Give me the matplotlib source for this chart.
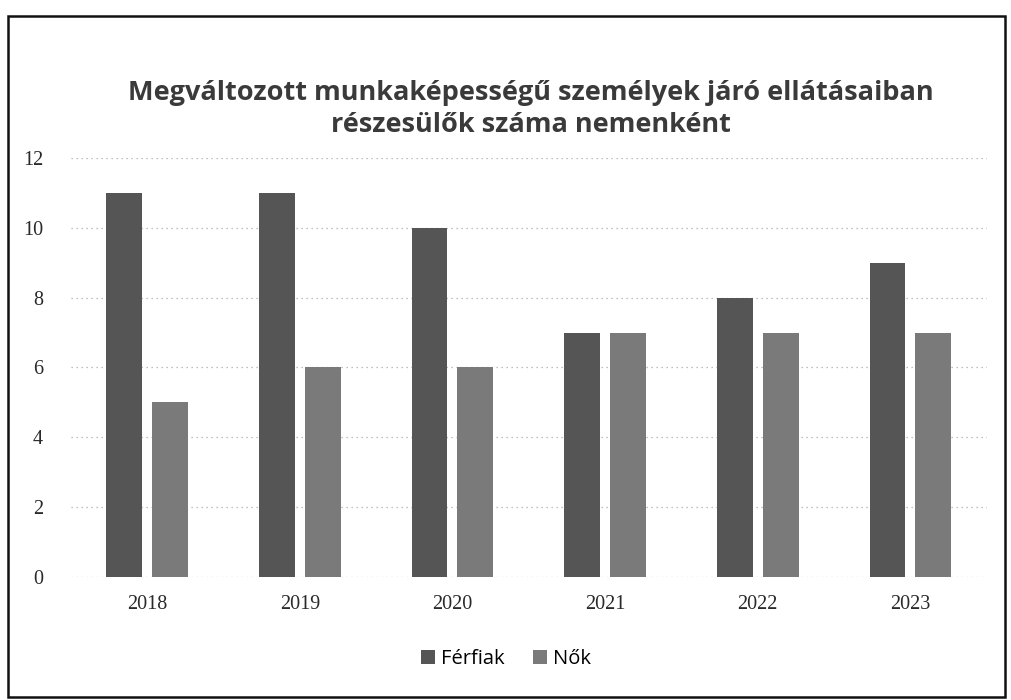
import matplotlib.pyplot as plt
import numpy as np
from matplotlib.patches import Rectangle

# adatok
evek = ['2018', '2019', '2020', '2021', '2022', '2023']
ferfiak = [11, 11, 10, 7, 8, 9]
nok = [5, 6, 6, 7, 7, 7]

fig = plt.figure(figsize=(10.12, 7), dpi=100)
ax = fig.add_axes([0.070, 0.176, 0.905, 0.598])

x = np.arange(len(evek))
w = 0.235
ax.bar(x - 0.15, ferfiak, w, color='#555555', label='Férfiak', zorder=3)
ax.bar(x + 0.15, nok, w, color='#7a7a7a', label='Nők', zorder=3)

ax.set_xlim(-0.5, 5.5)
ax.set_ylim(0, 12)
ax.set_yticks(range(0, 13, 2))
ax.set_xticks(x)
ax.set_xticklabels(evek)
ax.yaxis.grid(True, color='#aaaaaa', linestyle=(0, (1, 3)), linewidth=0.9, zorder=0)
for s in ax.spines.values():
    s.set_visible(False)
ax.tick_params(length=0, labelsize=14.5, colors='#2a2a2a')
ax.tick_params(axis='x', pad=13)
ax.tick_params(axis='y', pad=20)
for t in ax.get_xticklabels() + ax.get_yticklabels():
    t.set_family('Liberation Serif')

fig.text(0.525, 0.845, 'Megváltozott munkaképességű személyek járó ellátásaiban\nrészesülők száma nemenként',
         ha='center', va='center', fontsize=19.5, fontweight='bold', family='Open Sans',
         color='#3a3a3a', linespacing=1.3)

fig.legend(loc='center', bbox_to_anchor=(0.5, 0.058), ncol=2, frameon=False,
           handlelength=0.7, handleheight=0.7, handletextpad=0.3,
           columnspacing=1.4, prop={'family': 'Open Sans', 'size': 14.5})

# keret a diagram körül
fig.patches.append(Rectangle((0.008, 0.005), 0.985, 0.972, transform=fig.transFigure,
                             fill=False, edgecolor='#111111', linewidth=1.8))

fig.savefig('out.png', dpi=100, facecolor='white')
